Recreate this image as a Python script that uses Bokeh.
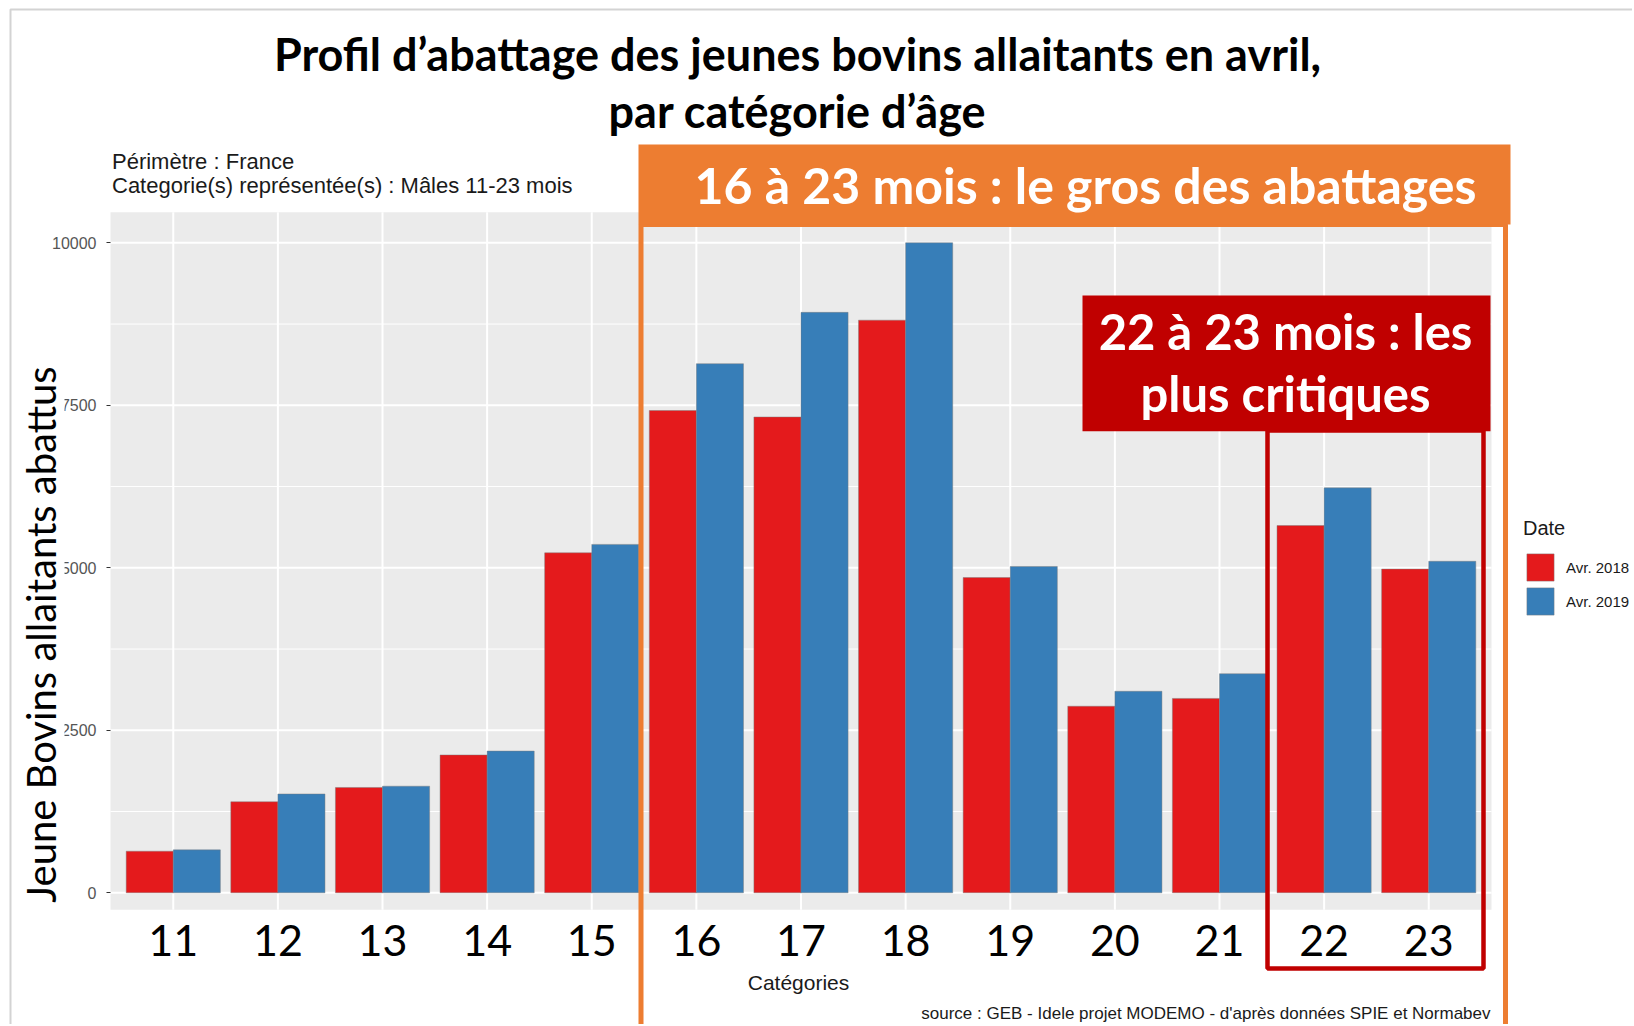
from math import pi
from bokeh.plotting import figure
from bokeh.models import (Range1d, FixedTicker, Label, BoxAnnotation, Legend,
                          LegendItem, ColumnDataSource, LinearAxis)
from bokeh.transform import dodge
from bokeh.embed import file_html
from bokeh.resources import INLINE

# ---------------- data ----------------
categories = ["11", "12", "13", "14", "15", "16", "17", "18", "19", "20", "21", "22", "23"]
avr_2018 = [640, 1400, 1620, 2120, 5230, 7420, 7320, 8810, 4850, 2870, 2990, 5650, 4980]
avr_2019 = [660, 1520, 1640, 2180, 5360, 8140, 8930, 10000, 5020, 3100, 3370, 6230, 5100]
series_labels = ["Avr. 2018", "Avr. 2019"]
y_ticks = [0, 2500, 5000, 7500, 10000]
y_minor_ticks = [1250, 3750, 6250, 8750]

RED = "#E41A1C"
BLUE = "#377EB8"
ORANGE = "#ED7D31"
DARKRED = "#C00000"

# ---------------- layout (pixels of the page) ----------------
W, H = 1632, 1024
x_pos = [int(c) for c in categories]
PANEL_X = (x_pos[0] - 0.6, x_pos[-1] + 0.6)      # ggplot discrete expansion
PANEL_Y = (-262, 10471)
PX_L, PX_R, PX_T, PX_B = 110.0, 1491.0, 211.7, 909.3   # panel edges on the page

sx = (PX_R - PX_L) / (PANEL_X[1] - PANEL_X[0])
sy = (PX_B - PX_T) / (PANEL_Y[1] - PANEL_Y[0])
x_range = Range1d(PANEL_X[0] - PX_L / sx, PANEL_X[1] + (W - PX_R) / sx)
y_range = Range1d(PANEL_Y[0] - (H - PX_B) / sy, PANEL_Y[1] + PX_T / sy)

p = figure(width=W, height=H, x_range=x_range, y_range=y_range,
           x_axis_location=None, y_axis_location=None, min_border=0,
           output_backend="svg", toolbar_location=None)
p.grid.visible = False
p.background_fill_color = "white"
p.border_fill_color = "white"
p.outline_line_color = None

# panel background
p.add_layout(BoxAnnotation(left=PANEL_X[0], right=PANEL_X[1], bottom=PANEL_Y[0],
                           top=PANEL_Y[1], fill_color="#EBEBEB", fill_alpha=1,
                           line_color=None, level="image"))

# grid lines (white, ggplot style) limited to the panel
p.segment(x0=PANEL_X[0], x1=PANEL_X[1], y0=y_minor_ticks, y1=y_minor_ticks,
          line_color="white", line_width=1)
p.segment(x0=PANEL_X[0], x1=PANEL_X[1], y0=y_ticks, y1=y_ticks,
          line_color="white", line_width=2)
p.segment(x0=x_pos, x1=x_pos, y0=PANEL_Y[0], y1=PANEL_Y[1],
          line_color="white", line_width=2)

src = ColumnDataSource(dict(x=x_pos, a=avr_2018, b=avr_2019))
r1 = p.vbar(x=dodge("x", -0.225), top="a", width=0.45, source=src,
            fill_color=RED, line_color="#7a7a7a", line_alpha=0.45, line_width=1)
r2 = p.vbar(x=dodge("x", 0.225), top="b", width=0.45, source=src,
            fill_color=BLUE, line_color="#7a7a7a", line_alpha=0.45, line_width=1)

# y axis
yaxis = LinearAxis(fixed_location=PANEL_X[0], ticker=FixedTicker(ticks=y_ticks))
yaxis.axis_line_color = None
yaxis.major_tick_line_color = "#333333"
yaxis.major_tick_out = 4
yaxis.major_tick_in = 0
yaxis.minor_tick_line_color = None
yaxis.major_label_standoff = 10
yaxis.major_label_text_font = "Liberation Sans"
yaxis.major_label_text_font_size = "16px"
yaxis.major_label_text_color = "#555555"
p.add_layout(yaxis, "left")

# x axis
xaxis = LinearAxis(fixed_location=PANEL_Y[0], ticker=FixedTicker(ticks=x_pos),
                   major_label_overrides={x: c for x, c in zip(x_pos, categories)})
xaxis.axis_line_color = None
xaxis.major_tick_line_color = None
xaxis.minor_tick_line_color = None
xaxis.major_tick_out = 0
xaxis.major_tick_in = 0
xaxis.major_label_standoff = 15
xaxis.major_label_text_font = "Lato"
xaxis.major_label_text_font_size = "43px"
xaxis.major_label_text_color = "black"
p.add_layout(xaxis, "below")


def box(left, right, top, bottom, fill=None, line=None, lw=0):
    """Box given in page pixels (y from the top)."""
    b = BoxAnnotation(left=left, right=right, top=H - top, bottom=H - bottom,
                      left_units="screen", right_units="screen",
                      top_units="screen", bottom_units="screen",
                      fill_color=fill if fill else "white",
                      fill_alpha=1 if fill else 0,
                      line_color=line if line else "white", line_width=lw,
                      line_alpha=1 if line else 0)
    p.add_layout(b)


def lab(text, x, y, size, font="Lato", style="normal", color="black",
        align="left", baseline="middle", angle=0, bg=None):
    """Label given in page pixels (y from the top)."""
    kw = {}
    if bg:
        kw = dict(background_fill_color=bg, background_fill_alpha=1)
    p.add_layout(Label(x=x, y=H - y, x_units="screen", y_units="screen", text=text,
                       text_font=font, text_font_size=f"{size}px",
                       text_font_style=style, text_color=color,
                       text_align=align, text_baseline=baseline, angle=angle, **kw))


# slide border
box(10, W + 50, 9, H + 50, line="#D3D3D3", lw=2)

# orange outline + header
box(640.5, 1505, 224, H + 50, line=ORANGE, lw=5)
box(638, 1510, 144, 224, fill=ORANGE)

# red outline + label box
box(1267, 1483, 430, 968, line=DARKRED, lw=4.5)
box(1082, 1490, 295, 430.7, fill=DARKRED)

# titles
lab("Profil d\u2019abattage des jeunes bovins allaitants en avril,", 797, 53, 45,
    style="bold", align="center")
lab("par catégorie d\u2019âge", 797, 110, 45, style="bold", align="center")

lab("Périmètre : France", 111.5, 161, 22, font="Liberation Sans", color="#1a1a1a")
lab("Categorie(s) représentée(s) : Mâles 11-23 mois", 111.5, 185, 22,
    font="Liberation Sans", color="#1a1a1a")

lab("16 à 23 mois : le gros des abattages", 1085, 184, 50, style="bold",
    color="white", align="center")
lab("22 à 23 mois : les", 1285, 330, 49, style="bold", color="white", align="center")
lab("plus critiques", 1285, 392, 49, style="bold", color="white", align="center")

lab("Jeune Bovins allaitants abattus", 40, 634, 40, align="center", angle=pi / 2,
    bg="white")

lab("Catégories", 798, 982, 21, font="Liberation Sans", color="#1a1a1a",
    align="center")

lab("source : GEB - Idele projet MODEMO - d'après données SPIE et Normabev", 1490, 1013,
    17, font="Liberation Sans", color="#1a1a1a", align="right")

# legend
legend = Legend(items=[LegendItem(label=series_labels[0], renderers=[r1]),
                       LegendItem(label=series_labels[1], renderers=[r2])],
                location=(1523, H - 618), title="Date",
                title_text_font="Liberation Sans", title_text_font_size="20px",
                title_text_font_style="normal", title_text_color="#1a1a1a",
                title_standoff=10,
                label_text_font="Liberation Sans", label_text_font_size="15px",
                label_text_color="#1a1a1a",
                glyph_width=34, glyph_height=34, spacing=0, label_standoff=9,
                padding=0, margin=0, border_line_color=None,
                background_fill_alpha=0)
p.add_layout(legend)

open("out.html", "w").write(file_html(p, INLINE))
